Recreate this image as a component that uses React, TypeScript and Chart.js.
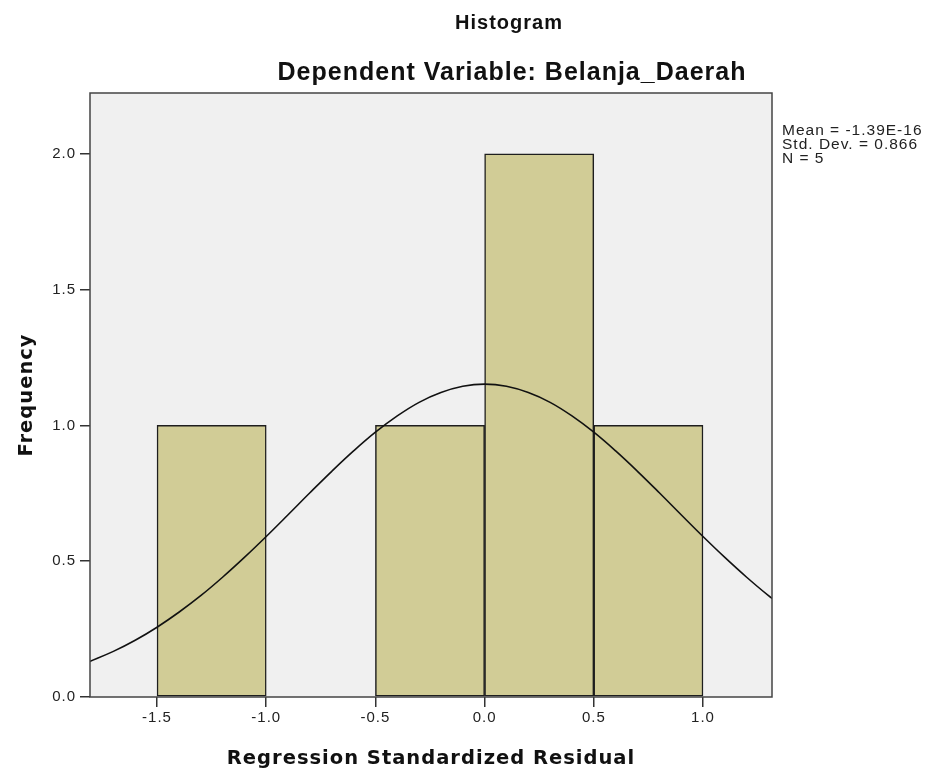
import React, { useEffect, useRef } from "react";
import { Chart, registerables } from "chart.js";

Chart.register(...registerables);

// ---- data ----
const binCenters = [-1.25, -0.75, -0.25, 0.25, 0.75];
const frequencies = [1, 0, 1, 2, 1];
const xTickValues = [-1.5, -1.0, -0.5, 0.0, 0.5, 1.0];
const yTickValues = [0.0, 0.5, 1.0, 1.5, 2.0];
const curveX = [
  -1.82, -1.7, -1.6, -1.5, -1.4, -1.3, -1.2, -1.1, -1.0, -0.9, -0.8, -0.7, -0.6,
  -0.5, -0.4, -0.3, -0.2, -0.1, 0.0, 0.1, 0.2, 0.3, 0.4, 0.5, 0.6, 0.7, 0.8,
  0.9, 1.0, 1.1, 1.2, 1.3, 1.33,
];
const curveY = [
  0.127, 0.168, 0.209, 0.257, 0.312, 0.373, 0.441, 0.514, 0.591, 0.671, 0.752,
  0.831, 0.906, 0.975, 1.035, 1.085, 1.121, 1.144, 1.152, 1.144, 1.121, 1.085,
  1.035, 0.975, 0.906, 0.831, 0.752, 0.671, 0.591, 0.514, 0.441, 0.373, 0.355,
];
const xRange = [-1.807, 1.316];
const yRange = [0, 2.224];
const statsLines = ["Mean = -1.39E-16", "Std. Dev. = 0.866", "N = 5"];
const titleText = "Histogram";
const subtitleText = "Dependent Variable: Belanja_Daerah";
const xAxisTitle = "Regression Standardized Residual";
const yAxisTitle = "Frequency";

const decorPlugin = {
  id: "decor",
  beforeDraw(chart: any) {
    const { ctx, chartArea } = chart;
    (ctx as any).letterSpacing = "1px";
    ctx.save();
    ctx.fillStyle = "#ffffff";
    ctx.fillRect(0, 0, chart.width, chart.height);
    ctx.fillStyle = "#f0f0f0";
    ctx.fillRect(
      chartArea.left,
      chartArea.top,
      chartArea.right - chartArea.left,
      chartArea.bottom - chartArea.top
    );
    ctx.restore();
  },
  afterDraw(chart: any) {
    const { ctx, chartArea } = chart;
    ctx.save();
    ctx.strokeStyle = "#444444";
    ctx.lineWidth = 1.5;
    ctx.strokeRect(
      chartArea.left,
      chartArea.top,
      chartArea.right - chartArea.left,
      chartArea.bottom - chartArea.top
    );
    ctx.fillStyle = "#111111";
    ctx.textAlign = "center";
    ctx.textBaseline = "middle";
    (ctx as any).letterSpacing = "1px";
    ctx.font = 'bold 20px "Liberation Sans", Arial, sans-serif';
    ctx.fillText(titleText, 509, 23);
    ctx.font = 'bold 25px "Liberation Sans", Arial, sans-serif';
    ctx.fillText(subtitleText, 512, 73);
    ctx.textAlign = "left";
    ctx.font = '15.5px "Liberation Sans", Arial, sans-serif';
    ctx.fillStyle = "#222222";
    statsLines.forEach((s, i) => ctx.fillText(s, 782, 131 + i * 14));
    ctx.restore();
  },
};

export default function App() {
  const ref = useRef<HTMLCanvasElement>(null);
  useEffect(() => {
    if (!ref.current) return;
    const tickFont = { family: '"Liberation Sans", Arial, sans-serif', size: 15 };
    const titleFont = { family: '"DejaVu Sans", sans-serif', size: 19.5, weight: "bold" as const };
    const chart = new Chart(ref.current, {
      type: "bar",
      data: {
        datasets: [
          {
            type: "line" as const,
            data: curveX.map((x, i) => ({ x, y: curveY[i] })),
            borderColor: "#111111",
            borderWidth: 1.6,
            pointRadius: 0,
            tension: 0.4,
            fill: false,
            order: 0,
          } as any,
          {
            type: "bar" as const,
            data: binCenters.map((x, i) => ({ x, y: frequencies[i] })),
            backgroundColor: "#d1cc96",
            borderColor: "#1e1e1e",
            borderWidth: 1.5,
            borderSkipped: false,
            barPercentage: 1,
            categoryPercentage: 1,
            order: 1,
          } as any,
        ],
      },
      options: {
        responsive: false,
        animation: false,
        layout: { padding: { left: 0, top: 93, right: 158, bottom: 0 } },
        plugins: {
          legend: { display: false },
          tooltip: { enabled: false },
          title: { display: false },
        },
        scales: {
          x: {
            type: "linear",
            offset: false,
            min: xRange[0],
            max: xRange[1],
            afterFit: (s: any) => {
              s.height = 77;
            },
            afterBuildTicks: (s: any) => {
              s.ticks = xTickValues.map((v) => ({ value: v }));
            },
            ticks: {
              font: tickFont,
              color: "#222222",
              padding: 2,
              maxRotation: 0,
              autoSkip: false,
              callback: (v: any) => Number(v).toFixed(1),
            },
            grid: {
              offset: false,
              drawOnChartArea: false,
              drawTicks: true,
              tickLength: 10,
              color: "#333333",
              lineWidth: 1.5,
            },
            border: { display: false },
            title: {
              display: true,
              text: xAxisTitle,
              font: titleFont,
              color: "#111111",
              padding: 3,
            },
          },
          y: {
            type: "linear",
            min: yRange[0],
            max: yRange[1],
            afterFit: (s: any) => {
              s.width = 90;
            },
            afterBuildTicks: (s: any) => {
              s.ticks = yTickValues.map((v) => ({ value: v }));
            },
            ticks: {
              font: tickFont,
              color: "#222222",
              padding: 4,
              autoSkip: false,
              callback: (v: any) => Number(v).toFixed(1),
            },
            grid: {
              drawOnChartArea: false,
              drawTicks: true,
              tickLength: 10,
              color: "#333333",
              lineWidth: 1.5,
            },
            border: { display: false },
            title: {
              display: true,
              text: yAxisTitle,
              font: titleFont,
              color: "#111111",
              padding: 15,
            },
          },
        },
      },
      plugins: [decorPlugin],
    });
    return () => chart.destroy();
  }, []);

  return (
    <div style={{ position: "absolute", left: 0, top: 0, width: 930, height: 774 }}>
      <canvas ref={ref} width={930} height={774} style={{ width: 930, height: 774, display: "block" }} />
    </div>
  );
}
